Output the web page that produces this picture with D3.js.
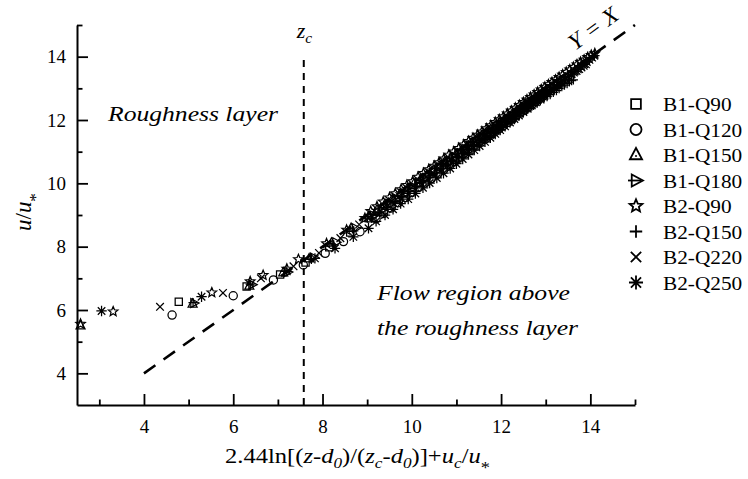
<!DOCTYPE html>
<html>
<head>
  <meta charset="utf-8" />
  <script src="https://d3js.org/d3.v7.min.js"></script>
  <style>
    body {
      margin: 0;
      background: #fff;
    }
    svg text {
      font-family: "Liberation Serif", "Times New Roman", serif;
      fill: #000;
    }
  </style>
</head>
<body>
<div id="chart"></div>

<script>

// ---- data: [x, y] pairs per run ----
var b1q90 = [[4.78,6.26],[6.30,6.74],[7.05,7.12],[7.62,7.50],[8.15,7.98],[8.62,8.45],
  [9.05,8.90],[9.25,9.10],[9.45,9.30],[9.64,9.50],[9.82,9.68],[9.99,9.86],[10.15,10.02],[10.32,10.20],
  [10.48,10.36],[10.63,10.51],[10.78,10.66],[10.92,10.81],[11.05,10.95],[11.19,11.09],[11.32,11.22],[11.44,11.34],
  [11.56,11.47],[11.68,11.59],[11.80,11.70],[11.91,11.82],[12.02,11.93],[12.13,12.04],[12.24,12.14],[12.34,12.25],
  [12.44,12.35],[12.54,12.45],[12.63,12.55],[12.73,12.64],[12.82,12.73],[12.91,12.82],[13.00,12.91],[13.09,13.00],
  [13.17,13.08],[13.25,13.16],[13.33,13.25]];
var b1q120 = [[4.63,5.84],[6.00,6.45],[6.90,6.95],[7.57,7.42],[8.06,7.79],[8.47,8.16],[8.84,8.47],
  [9.20,8.88],[9.37,9.05],[9.54,9.22],[9.70,9.39],[9.86,9.55],[10.01,9.71],[10.16,9.87],[10.30,10.01],
  [10.44,10.15],[10.58,10.29],[10.71,10.42],[10.84,10.55],[10.96,10.68],[11.08,10.80],[11.20,10.93],[11.32,11.05],
  [11.43,11.17],[11.54,11.29],[11.65,11.40],[11.76,11.51],[11.86,11.62],[11.96,11.73],[12.06,11.83],[12.16,11.93],
  [12.25,12.03],[12.34,12.13],[12.43,12.22],[12.52,12.31],[12.60,12.40],[12.69,12.49],[12.77,12.57],[12.85,12.66],
  [12.93,12.74]];
var b1q150 = [[2.58,5.50],[5.09,6.19],[6.36,6.76],[7.12,7.18],[7.70,7.62],[8.20,8.12],[8.64,8.58],
  [9.04,8.98],[9.22,9.16],[9.40,9.34],[9.57,9.51],[9.74,9.68],[9.90,9.84],[10.05,9.99],[10.20,10.13],
  [10.34,10.27],[10.48,10.41],[10.61,10.55],[10.74,10.68],[10.87,10.80],[10.99,10.92],[11.11,11.04],[11.23,11.16],
  [11.34,11.27],[11.45,11.39],[11.56,11.50],[11.67,11.61],[11.77,11.71],[11.87,11.81],[11.97,11.91],[12.07,12.01],
  [12.16,12.10],[12.25,12.19],[12.34,12.28],[12.43,12.37],[12.51,12.45],[12.60,12.54],[12.68,12.62],[12.76,12.70],
  [12.84,12.78],[12.92,12.86],[13.00,12.93]];
var b1q180 = [[5.12,6.22],[6.42,6.80],[7.22,7.20],[7.80,7.66],[8.30,8.14],[8.74,8.58],
  [9.14,8.98],[9.32,9.16],[9.50,9.34],[9.67,9.51],[9.84,9.68],[10.00,9.84],[10.15,9.99],[10.30,10.14],
  [10.44,10.28],[10.58,10.42],[10.72,10.56],[10.85,10.69],[10.98,10.82],[11.10,10.95],[11.22,11.07],[11.34,11.19],
  [11.45,11.30],[11.56,11.41],[11.67,11.52],[11.78,11.63],[11.88,11.73],[11.98,11.83],[12.08,11.93],[12.18,12.03],
  [12.27,12.12],[12.36,12.21],[12.45,12.30],[12.54,12.39],[12.62,12.48],[12.71,12.56],[12.79,12.64],[12.87,12.72],
  [12.95,12.80],[13.03,12.88],[13.10,12.96],[13.18,13.03],[13.25,13.10]];
var b2q90 = [[2.58,5.56],[3.31,5.95],[5.52,6.55],[6.38,6.90],[6.67,7.10],[7.20,7.30],[7.46,7.60],[8.09,8.10],
  [8.54,8.53],[8.95,8.90],[9.08,9.12],[9.22,9.27],[9.36,9.42],[9.50,9.55],[9.63,9.68],[9.76,9.81],[9.89,9.94],
  [10.02,10.06],[10.14,10.20],[10.26,10.32],[10.38,10.44],[10.50,10.55],[10.61,10.66],[10.72,10.78],[10.83,10.90],
  [10.94,11.00],[11.05,11.11],[11.16,11.22],[11.27,11.33],[11.37,11.43],[11.47,11.53],[11.57,11.63],[11.67,11.73],
  [11.77,11.83],[11.87,11.93],[11.96,12.02],[12.05,12.11],[12.14,12.20],[12.23,12.29],[12.32,12.38],[12.41,12.47],
  [12.50,12.56],[12.58,12.64],[12.66,12.72],[12.74,12.80],[12.82,12.88],[12.90,12.96],[12.98,13.04],[13.06,13.12],
  [13.14,13.19],[13.22,13.27],[13.30,13.35],[13.38,13.43],[13.46,13.51],[13.54,13.59],[13.62,13.67],[13.70,13.75],
  [13.78,13.83],[13.86,13.90],[13.94,13.98],[14.02,14.05],[14.10,14.10]];
var b2q150 = [[5.10,6.23],[6.38,6.82],[7.15,7.22],[7.75,7.60],[8.25,8.06],[8.70,8.50],
  [9.10,8.90],[9.28,9.08],[9.46,9.26],[9.63,9.43],[9.80,9.60],[9.96,9.75],[10.11,9.90],[10.26,10.05],
  [10.40,10.19],[10.54,10.33],[10.67,10.46],[10.80,10.58],[10.93,10.71],[11.05,10.83],[11.17,10.95],[11.29,11.06],
  [11.40,11.17],[11.51,11.28],[11.62,11.39],[11.73,11.49],[11.83,11.59],[11.93,11.69],[12.03,11.78],[12.13,11.87],
  [12.22,11.96],[12.31,12.05],[12.40,12.13],[12.49,12.22],[12.57,12.30],[12.65,12.38],[12.73,12.46],[12.81,12.53],
  [12.88,12.60],[12.96,12.67],[13.03,12.74],[13.10,12.80],[13.17,12.87],[13.24,12.93],[13.30,12.99],[13.36,13.05],
  [13.42,13.10],[13.48,13.15],[13.53,13.20],[13.58,13.24],[13.62,13.27]];
var b2q220 = [[4.36,6.10],[5.77,6.54],[6.62,7.00],[7.35,7.38],[7.92,7.80],[8.40,8.27],[8.82,8.70],
  [9.02,8.90],[9.20,9.08],[9.38,9.26],[9.55,9.43],[9.72,9.60],[9.88,9.76],[10.03,9.91],[10.18,10.06],
  [10.32,10.21],[10.46,10.35],[10.60,10.49],[10.73,10.62],[10.86,10.75],[10.98,10.87],[11.10,10.99],[11.22,11.11],
  [11.34,11.23],[11.45,11.34],[11.56,11.45],[11.66,11.56],[11.77,11.67],[11.87,11.77],[11.97,11.87],[12.06,11.96],
  [12.16,12.06],[12.25,12.15],[12.34,12.24],[12.42,12.32],[12.51,12.41],[12.59,12.49],[12.67,12.57],[12.75,12.64],
  [12.83,12.72],[12.90,12.79],[12.98,12.86],[13.05,12.93],[13.12,13.00],[13.19,13.07],[13.26,13.14],[13.32,13.20],
  [13.39,13.26],[13.45,13.32],[13.51,13.38],[13.57,13.44],[13.63,13.50],[13.69,13.55],[13.75,13.61],[13.80,13.66],
  [13.85,13.71],[13.90,13.76]];
var b2q250 = [[3.05,5.97],[5.29,6.42],[7.20,7.22],[7.83,7.63],[8.28,7.95],[8.69,8.31],[9.03,8.58],
  [9.20,8.80],[9.40,9.00],[9.58,9.18],[9.75,9.36],[9.92,9.50],[10.08,9.68],[10.25,9.86],[10.40,10.01],
  [10.56,10.17],[10.71,10.32],[10.86,10.47],[11.00,10.62],[11.14,10.77],[11.27,10.91],[11.40,11.05],[11.52,11.18],
  [11.64,11.31],[11.76,11.44],[11.87,11.56],[11.98,11.68],[12.09,11.80],[12.20,11.92],[12.30,12.03],[12.40,12.14],
  [12.50,12.25],[12.60,12.36],[12.69,12.46],[12.78,12.56],[12.87,12.66],[12.96,12.76],[13.04,12.85],[13.12,12.94],
  [13.20,13.03],[13.28,13.12],[13.36,13.20],[13.44,13.29],[13.51,13.37],[13.58,13.45],[13.65,13.53],[13.72,13.60],
  [13.79,13.68],[13.86,13.76],[13.92,13.83],[13.98,13.90],[14.04,13.97],[14.09,14.03]];

var seriesNames = ["B1-Q90", "B1-Q120", "B1-Q150", "B1-Q180", "B2-Q90", "B2-Q150", "B2-Q220", "B2-Q250"];
var seriesShapes = ["square", "circle", "triangle", "triRight", "star", "plus", "cross", "aster"];
var seriesData = [b1q90, b1q120, b1q150, b1q180, b2q90, b2q150, b2q220, b2q250];

var xTicks = [4, 6, 8, 10, 12, 14];
var xMinor = [3, 5, 7, 9, 11, 13, 15];
var yTicks = [4, 6, 8, 10, 12, 14];
var yMinor = [5, 7, 9, 11, 13, 15];
var zcValue = 7.58;      // position of z_c
var zcTop = 13.9;
var lineYX = [4, 15];    // Y = X reference line

// ---- layout ----
var margin = {top: 25, right: 113, bottom: 74, left: 77},
    width = 748 - margin.left - margin.right,
    height = 479 - margin.top - margin.bottom;

var svg = d3.select("#chart")
  .append("svg")
  .attr("width", 748)
  .attr("height", 479)
  .append("g")
  .attr("transform", "translate(" + margin.left + "," + margin.top + ")");

var x = d3.scaleLinear().domain([2.5, 15]).range([0, width]);
var y = d3.scaleLinear().domain([3, 15]).range([height, 0]);

// marker shapes, r = half size
var shapes = {
  square: function(p, r) { p.rect(-r, -r, 2 * r, 2 * r); },
  circle: function(p, r) { p.moveTo(r, 0); p.arc(0, 0, r, 0, 2 * Math.PI); },
  triangle: function(p, r) {
    p.moveTo(0, -1.15 * r); p.lineTo(r, 0.7 * r); p.lineTo(-r, 0.7 * r); p.closePath();
  },
  triRight: function(p, r) {
    p.moveTo(1.15 * r, 0); p.lineTo(-0.7 * r, -r); p.lineTo(-0.7 * r, r); p.closePath();
  },
  star: function(p, r) {
    for (var i = 0; i < 10; i++) {
      var a = -Math.PI / 2 + i * Math.PI / 5, rr = i % 2 ? r * 0.45 : r;
      if (i == 0) p.moveTo(rr * Math.cos(a), rr * Math.sin(a));
      else p.lineTo(rr * Math.cos(a), rr * Math.sin(a));
    }
    p.closePath();
  },
  plus: function(p, r) { p.moveTo(-r, 0); p.lineTo(r, 0); p.moveTo(0, -r); p.lineTo(0, r); },
  cross: function(p, r) {
    var k = r * 0.85;
    p.moveTo(-k, -k); p.lineTo(k, k); p.moveTo(-k, k); p.lineTo(k, -k);
  },
  aster: function(p, r) {
    var k = r * 0.72;
    p.moveTo(-r, 0); p.lineTo(r, 0); p.moveTo(0, -r); p.lineTo(0, r);
    p.moveTo(-k, -k); p.lineTo(k, k); p.moveTo(-k, k); p.lineTo(k, -k);
  }
};
var shapeSize = {square: 3.6, circle: 4.1, triangle: 4.5, triRight: 4.5, star: 5, plus: 4.6, cross: 4.5, aster: 5.2};

function markerPath(kind, scale) {
  var p = d3.path();
  shapes[kind](p, shapeSize[kind] * scale);
  return p.toString();
}

// stretch a text to a measured width (the original face is wider than Liberation Serif)
function fitWidth(sel, w) {
  sel.attr("textLength", w).attr("lengthAdjust", "spacingAndGlyphs");
}

// ---- axes ----
var xAxis = svg.append("g")
  .attr("transform", "translate(0," + height + ")")
  .call(d3.axisBottom(x).tickValues(xTicks).tickSizeInner(-11).tickSizeOuter(0).tickPadding(15));
xAxis.select(".domain").attr("stroke-width", 2);
xAxis.selectAll(".tick line").attr("stroke-width", 1.8);
xAxis.selectAll("text")
  .style("font-size", "19px")
  .style("font-family", "Liberation Serif");

svg.append("g")
  .attr("transform", "translate(0," + height + ")")
  .call(d3.axisBottom(x).tickValues(xMinor).tickSize(-5.5).tickFormat(""))
  .call(function(g) { g.select(".domain").remove(); })
  .selectAll(".tick line").attr("stroke-width", 1.8);

var yAxis = svg.append("g")
  .call(d3.axisLeft(y).tickValues(yTicks).tickSizeInner(-11).tickSizeOuter(0).tickPadding(11));
yAxis.select(".domain").attr("stroke-width", 2);
yAxis.selectAll(".tick line").attr("stroke-width", 1.8);
yAxis.selectAll("text")
  .style("font-size", "19px")
  .style("font-family", "Liberation Serif");

svg.append("g")
  .call(d3.axisLeft(y).tickValues(yMinor).tickSize(-5.5).tickFormat(""))
  .call(function(g) { g.select(".domain").remove(); })
  .selectAll(".tick line").attr("stroke-width", 1.8);

// ---- reference lines ----
svg.append("line")
  .attr("x1", x(lineYX[0])).attr("y1", y(lineYX[0]))
  .attr("x2", x(lineYX[1])).attr("y2", y(lineYX[1]))
  .attr("stroke", "#000")
  .attr("stroke-width", 2.6)
  .attr("stroke-dasharray", "14,10");

svg.append("line")
  .attr("x1", x(zcValue)).attr("y1", y(3))
  .attr("x2", x(zcValue)).attr("y2", y(zcTop))
  .attr("stroke", "#000")
  .attr("stroke-width", 2)
  .attr("stroke-dasharray", "7,6");

// ---- points ----
seriesData.forEach(function(data, i) {
  svg.append("g")
    .attr("class", "series " + seriesNames[i])
    .selectAll("path")
    .data(data)
    .enter().append("path")
      .attr("transform", function(d) { return "translate(" + x(d[0]) + "," + y(d[1]) + ")"; })
      .attr("d", markerPath(seriesShapes[i], 1))
      .attr("fill", "none")
      .attr("stroke", "#000")
      .attr("stroke-width", 1.25);
});

// ---- legend ----
var legend = svg.append("g")
  .attr("transform", "translate(" + (width + 1) + ",79)");

var rows = legend.selectAll("g")
  .data(seriesNames)
  .enter().append("g")
    .attr("transform", function(d, i) { return "translate(0," + i * 25.5 + ")"; });

rows.append("path")
  .attr("d", function(d, i) { return markerPath(seriesShapes[i], 1.35); })
  .attr("fill", "none")
  .attr("stroke", "#000")
  .attr("stroke-width", 1.8);

// dot inside the triangle, line through the right triangle
rows.filter(function(d, i) { return seriesShapes[i] == "triangle"; })
  .append("circle").attr("r", 1).attr("cy", 1).attr("fill", "#000");
rows.filter(function(d, i) { return seriesShapes[i] == "triRight"; })
  .append("line").attr("x1", -8).attr("x2", 5).attr("stroke", "#000").attr("stroke-width", 1.8);

rows.append("text")
  .attr("x", 27)
  .attr("y", 7)
  .style("font-size", "19px")
  .text(function(d) { return d; })
  .each(function() {
    d3.select(this).call(fitWidth, this.getComputedTextLength() * 1.12);
  });

// ---- annotations ----
function richText(sel, parts, size) {
  parts.forEach(function(p) {
    var t = sel.append("tspan").text(p[0]);
    if (p[1]) t.style("font-style", "italic");
    if (p[2] == "sub") t.attr("dy", 5).style("font-size", (size * 0.7) + "px");
    if (p[2] == "star") t.attr("dy", 10).style("font-size", (size * 0.75) + "px");
    if (p[2] == "up") t.attr("dy", -5);
  });
}

svg.append("text")
  .attr("x", 31).attr("y", 96)
  .style("font-size", "21px")
  .style("font-style", "italic")
  .text("Roughness layer")
  .call(fitWidth, 170);

svg.append("text")
  .attr("x", 300).attr("y", 275)
  .style("font-size", "21px")
  .style("font-style", "italic")
  .text("Flow region above")
  .call(fitWidth, 193);

svg.append("text")
  .attr("x", 300).attr("y", 310)
  .style("font-size", "21px")
  .style("font-style", "italic")
  .text("the roughness layer")
  .call(fitWidth, 201);

var zcLabel = svg.append("text")
  .attr("x", x(zcValue) - 7).attr("y", 13)
  .style("font-size", "22px");
richText(zcLabel, [["z", true], ["c", true, "sub"]], 22);

svg.append("text")
  .attr("transform", "translate(" + (x(lineYX[1]) - 60) + "," + (y(lineYX[1]) + 26) + ") rotate(-36)")
  .style("font-size", "23px")
  .style("font-style", "italic")
  .text("Y = X")
  .call(fitWidth, 56);

// axis titles
var xTitle = svg.append("text")
  .attr("x", 148)
  .attr("y", height + 58)
  .style("font-size", "22px");
richText(xTitle, [["2.44ln[(", false], ["z", true], ["-", false], ["d", true], ["0", true, "sub"],
  [")/(", false, "up"], ["z", true], ["c", true, "sub"], ["-", false, "up"], ["d", true], ["0", true, "sub"],
  [")]+", false, "up"], ["u", true], ["c", true, "sub"], ["/", false, "up"], ["u", true], ["*", false, "star"]], 22);
xTitle.call(fitWidth, 265);

var yTitle = svg.append("text")
  .attr("transform", "translate(-46," + (height / 2 - 3) + ") rotate(-90)")
  .attr("text-anchor", "middle")
  .style("font-size", "23px");
richText(yTitle, [["u", true], ["/", false], ["u", true], ["*", false, "star"]], 23);

</script>
</body>
</html>
